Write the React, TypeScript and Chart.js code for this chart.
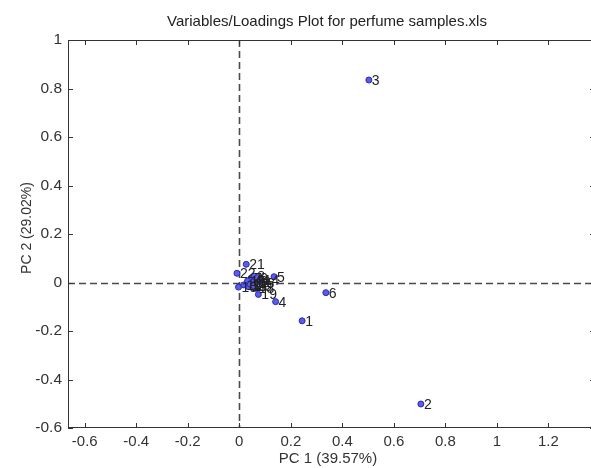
import React, { useEffect, useRef } from "react";
import { Chart, registerables } from "chart.js";

Chart.register(...registerables);

const TITLE = "Variables/Loadings Plot for perfume samples.xls";
const X_TITLE = "PC 1 (39.57%)";
const Y_TITLE = "PC 2 (29.02%)";

const varLabels = ["1", "2", "3", "4", "5", "6", "7", "8", "9", "10", "11", "12", "13", "14", "15", "16", "17", "18", "19", "20", "21", "22"];
const pc1 = [0.244, 0.705, 0.503, 0.141, 0.135, 0.336, 0.045, 0.058, 0.07, -0.003, 0.017, 0.051, 0.035, 0.083, 0.032, 0.064, 0.042, 0.064, 0.074, 0.055, 0.027, -0.009];
const pc2 = [-0.158, -0.501, 0.835, -0.079, 0.024, -0.042, 0.017, 0.026, 0.02, -0.019, -0.01, 0.001, -0.017, 0.01, 0.006, -0.003, -0.007, -0.024, -0.049, -0.013, 0.075, 0.038];

const xTicks = [-0.6, -0.4, -0.2, 0, 0.2, 0.4, 0.6, 0.8, 1, 1.2];
const yTicks = [-0.6, -0.4, -0.2, 0, 0.2, 0.4, 0.6, 0.8, 1];
const X_MIN = -0.665;
const X_MAX = 1.381;
const Y_MIN = -0.6;
const Y_MAX = 1;

const FONT = "'Liberation Sans', Arial, sans-serif";

const fmt = (v: number) => String(Number(Number(v).toFixed(2)));

const overlay = {
  id: "overlay",
  beforeDatasetsDraw(chart: any) {
    const { ctx, chartArea: a, scales } = chart;
    const xs = scales.x;
    const ys = scales.y;
    ctx.save();
    ctx.strokeStyle = "#4a4a4a";
    ctx.lineWidth = 1.6;
    ctx.setLineDash([7, 4]);
    const x0 = Math.round(xs.getPixelForValue(0)) + 0.5;
    const y0 = Math.round(ys.getPixelForValue(0)) + 0.5;
    ctx.beginPath();
    ctx.moveTo(x0, a.top);
    ctx.lineTo(x0, a.bottom);
    ctx.moveTo(a.left, y0);
    ctx.lineTo(a.right, y0);
    ctx.stroke();
    ctx.setLineDash([]);
    ctx.strokeStyle = "#333";
    ctx.lineWidth = 1;
    ctx.strokeRect(a.left + 0.5, a.top + 0.5, a.right - a.left - 1, a.bottom - a.top - 1);
    ctx.beginPath();
    xTicks.forEach((v) => {
      const px = Math.round(xs.getPixelForValue(v)) + 0.5;
      ctx.moveTo(px, a.bottom);
      ctx.lineTo(px, a.bottom - 5);
      ctx.moveTo(px, a.top);
      ctx.lineTo(px, a.top + 5);
    });
    yTicks.forEach((v) => {
      const py = Math.round(ys.getPixelForValue(v)) + 0.5;
      ctx.moveTo(a.left, py);
      ctx.lineTo(a.left + 5, py);
      ctx.moveTo(a.right, py);
      ctx.lineTo(a.right - 5, py);
    });
    ctx.stroke();
    ctx.fillStyle = "#222";
    ctx.textAlign = "center";
    ctx.textBaseline = "middle";
    ctx.font = `15px ${FONT}`;
    ctx.fillText(TITLE, 327, 22);
    ctx.fillStyle = "#333";
    ctx.font = `15px ${FONT}`;
    ctx.fillText(X_TITLE, 328, 459);
    ctx.save();
    ctx.translate(27, 228);
    ctx.rotate(-Math.PI / 2);
    ctx.font = `14px ${FONT}`;
    ctx.fillText(Y_TITLE, 0, 0);
    ctx.restore();
    ctx.restore();
  },
  afterDatasetsDraw(chart: any) {
    const { ctx } = chart;
    const meta = chart.getDatasetMeta(0);
    ctx.save();
    ctx.fillStyle = "#222";
    ctx.font = `14px ${FONT}`;
    ctx.textAlign = "left";
    ctx.textBaseline = "middle";
    meta.data.forEach((pt: any, i: number) => {
      ctx.fillText(varLabels[i], pt.x + 3, pt.y + 1);
    });
    ctx.restore();
  },
};

export default function App() {
  const ref = useRef<HTMLCanvasElement | null>(null);
  useEffect(() => {
    if (!ref.current) return;
    const chart = new Chart(ref.current, {
      type: "scatter",
      data: {
        datasets: [
          {
            data: pc1.map((x, i) => ({ x, y: pc2[i] })),
            backgroundColor: "#5b5bf0",
            borderColor: "#2a2aa8",
            borderWidth: 1,
            pointRadius: 3,
          },
        ],
      },
      options: {
        animation: false,
        responsive: false,
        devicePixelRatio: 1,
        layout: { padding: { top: 40, right: 0, bottom: 0, left: 0 } },
        plugins: { legend: { display: false }, tooltip: { enabled: false }, title: { display: false } },
        scales: {
          x: {
            type: "linear",
            min: X_MIN,
            max: X_MAX,
            grid: { display: false, drawTicks: false },
            border: { display: false },
            afterBuildTicks: (s: any) => {
              s.ticks = xTicks.map((value) => ({ value }));
            },
            afterFit: (s: any) => {
              s.height = 40;
              s.paddingLeft = 0;
              s.paddingRight = 0;
            },
            ticks: {
              padding: 5,
              color: "#333",
              font: { family: FONT, size: 15 },
              callback: (v: any) => fmt(v),
              maxRotation: 0,
              autoSkip: false,
            },
          },
          y: {
            type: "linear",
            min: Y_MIN,
            max: Y_MAX,
            grid: { display: false, drawTicks: false },
            border: { display: false },
            afterBuildTicks: (s: any) => {
              s.ticks = yTicks.map((value) => ({ value }));
            },
            afterFit: (s: any) => {
              s.width = 68;
              s.paddingTop = 0;
              s.paddingBottom = 0;
            },
            ticks: {
              padding: 6,
              color: "#333",
              font: { family: FONT, size: 15.5 },
              callback: (v: any) => fmt(v),
              autoSkip: false,
            },
          },
        },
      },
      plugins: [overlay],
    });
    return () => chart.destroy();
  }, []);
  return (
    <div style={{ position: "fixed", left: 0, top: 0, width: 591, height: 468, overflow: "hidden", background: "#fff" }}>
      <canvas ref={ref} width={600} height={468} style={{ display: "block" }} />
    </div>
  );
}
